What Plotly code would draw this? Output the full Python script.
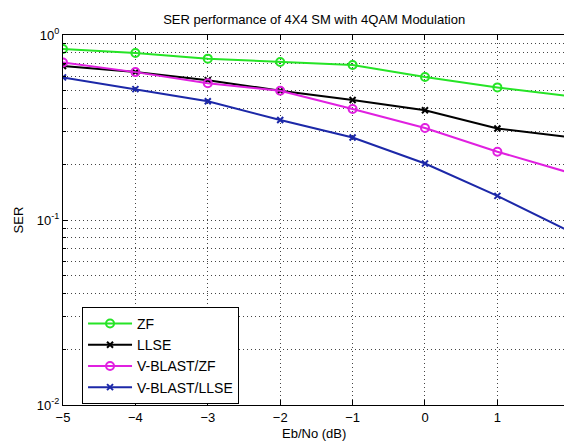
import plotly.graph_objects as go

snr_db = [-5, -4, -3, -2, -1, 0, 1, 2]
ser_zf = [0.84, 0.80, 0.745, 0.715, 0.689, 0.593, 0.521, 0.467]
ser_llse = [0.68, 0.63, 0.57, 0.50, 0.445, 0.392, 0.312, 0.28]
ser_vblast_zf = [0.71, 0.63, 0.548, 0.50, 0.398, 0.314, 0.234, 0.18]
ser_vblast_llse = [0.59, 0.51, 0.438, 0.347, 0.279, 0.202, 0.135, 0.0867]

x_ticks = [-5, -4, -3, -2, -1, 0, 1]
y_ticks = [0.01, 0.1, 1]
y_tick_labels = ['10<sup>-2</sup>', '10<sup>-1</sup>', '10<sup>0</sup>']

FONT = dict(family='Liberation Sans, Arial', size=13, color='black')
GRID = dict(showgrid=True, gridcolor='#444444', griddash='1px,3px', gridwidth=1)


def add_curve(figure, ys, name, color, symbol, size):
    figure.add_trace(go.Scatter(
        x=snr_db,
        y=ys,
        name=name,
        mode='lines+markers',
        line=dict(color=color, width=2),
        marker=dict(symbol=symbol, size=size, color=color,
                    line=dict(color=color, width=2))))


def produce_graph():
    figure = go.Figure()
    add_curve(figure, ser_zf, 'ZF', '#26e426', 'circle-open', 8)
    add_curve(figure, ser_llse, 'LLSE', 'black', 'x-thin', 6)
    add_curve(figure, ser_vblast_zf, 'V-BLAST/ZF', '#e020e0', 'circle-open', 8)
    add_curve(figure, ser_vblast_llse, 'V-BLAST/LLSE', '#1c28a8', 'x-thin', 6)

    figure.update_layout(
        width=564,
        height=443,
        margin=dict(l=63, r=0, t=35, b=38),
        plot_bgcolor='white',
        paper_bgcolor='white',
        font=FONT,
        title=dict(text='SER performance of 4X4 SM with 4QAM Modulation',
                   x=0.557, xanchor='center', y=0.955, yanchor='middle',
                   font=FONT),
        xaxis=dict(
            range=[-5, 1.92],
            tickvals=x_ticks,
            ticks='inside',
            ticklen=5,
            tickcolor='black',
            showline=True,
            linecolor='black',
            linewidth=1,
            mirror='ticks',
            zeroline=False,
            automargin=False,
            **GRID,
        ),
        yaxis=dict(
            type='log',
            range=[-2, 0],
            tickvals=y_ticks,
            ticktext=y_tick_labels,
            ticks='inside',
            ticklen=5,
            tickcolor='black',
            showline=True,
            linecolor='black',
            linewidth=1,
            zeroline=False,
            automargin=False,
            minor=dict(dtick='D1', ticks='inside', ticklen=3,
                       tickcolor='black', **GRID),
            title=dict(text='SER', standoff=10, font=FONT),
            **GRID,
        ),
        annotations=[dict(
            text='Eb/No (dB)', x=(314 - 63) / 501, xref='paper', xanchor='center',
            y=-(433 - 405) / 370, yref='paper', yanchor='middle',
            showarrow=False, font=FONT)],
        legend=dict(
            x=0.038, y=0.265, xanchor='left', yanchor='top',
            bgcolor='white',
            bordercolor='black',
            borderwidth=1,
            itemwidth=44,
            font=dict(family='Liberation Sans, Arial', size=14, color='black'),
        ),
    )
    figure.write_html(
        'out.html',
        config={'displayModeBar': False},
        post_script="document.body.style.margin='0';"
                    "document.body.style.overflow='hidden';")


if __name__ == '__main__':
    produce_graph()
